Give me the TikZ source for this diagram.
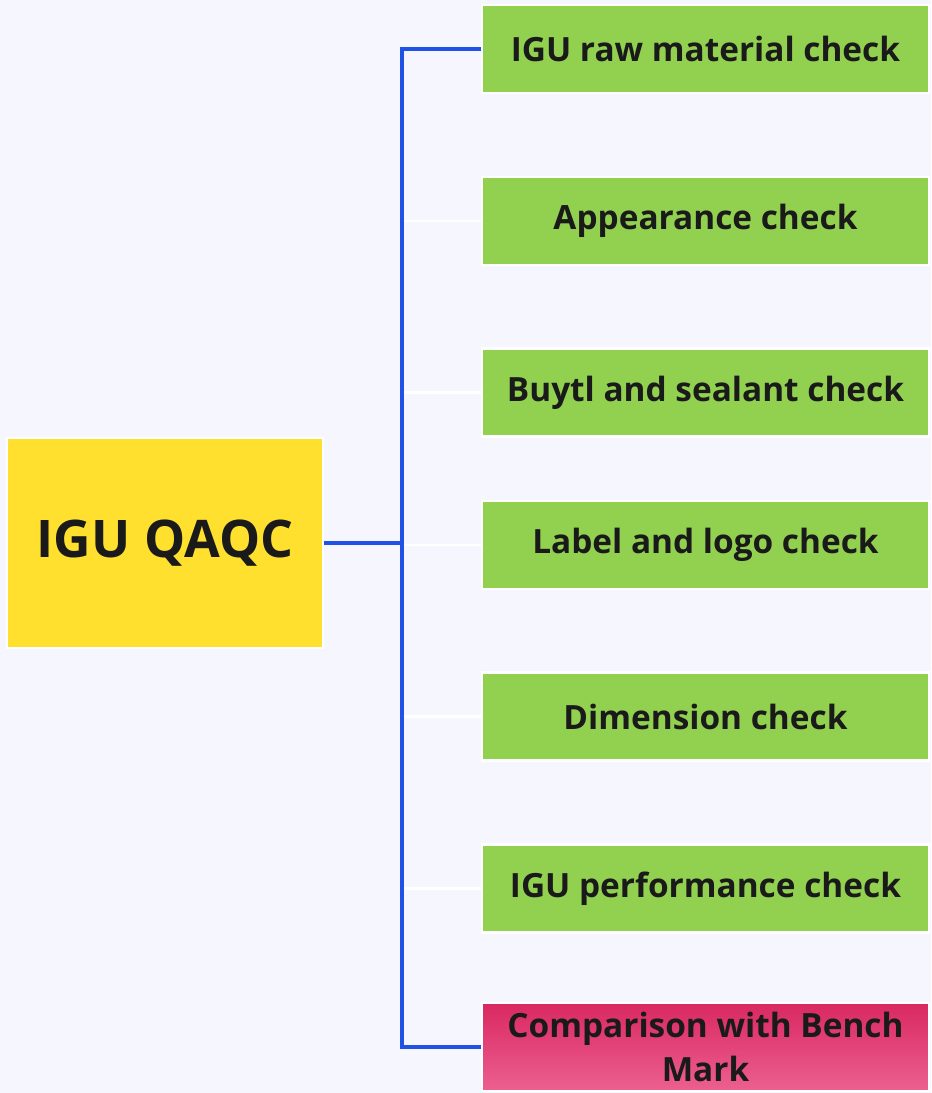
\documentclass[tikz,border=0pt]{standalone}
\usepackage{fontspec}
\setmainfont{Open Sans}
\definecolor{bg}{HTML}{F5F6FE}
\definecolor{rootfill}{HTML}{FFE02E}
\definecolor{checkfill}{HTML}{92D050}
\definecolor{linkblue}{HTML}{2152E6}
\definecolor{marktop}{HTML}{D92862}
\definecolor{markbot}{HTML}{EC6090}
\definecolor{txt}{HTML}{1A1A1A}
\tikzset{
  rootbox/.style={draw=white, line width=1.5pt, fill=rootfill, minimum width=6.32cm, minimum height=4.2cm, font=\bfseries\fontsize{29.5}{34}\selectfont, text=txt},
  checkbox/.style={draw=white, line width=1.5pt, fill=checkfill, minimum width=8.94cm, minimum height=1.76cm, font=\bfseries\fontsize{19}{22}\selectfont, text=txt, align=center},
  link/.style={draw=linkblue, line width=1.8pt},
  faint/.style={draw=white, line width=1.2pt}
}
\begin{document}
\begin{tikzpicture}[x=0.02cm, y=0.02cm]
\fill[bg] (0,0) rectangle (931,1093);
\useasboundingbox (0,0) rectangle (931,1093);
\node[rootbox] (root) at (165,550) {IGU QAQC};
\node[checkbox] (c1) at (705.5,1044) {IGU raw material check};
\node[checkbox] (c2) at (705.5,872) {Appearance check};
\node[checkbox] (c3) at (705.5,700.5) {Buytl and sealant check};
\node[checkbox] (c4) at (705.5,548) {Label and logo check};
\node[checkbox] (c5) at (705.5,376.5) {Dimension check};
\node[checkbox] (c6) at (705.5,204.5) {IGU performance check};
\node[checkbox, fill=none, top color=marktop, bottom color=markbot] (c7) at (705.5,46) {Comparison with Bench\\[2.5pt]Mark};
\coordinate (hub) at (402,550);
% faint branches to the middle boxes
\draw[faint] (hub |- c2) -- (c2.west);
\draw[faint] (hub |- c3) -- (c3.west);
\draw[faint] (hub |- c4) -- (c4.west);
\draw[faint] (hub |- c5) -- (c5.west);
\draw[faint] (hub |- c6) -- (c6.west);
% main connectors
\draw[link] (root.east) -- (hub);
\draw[link] (c1.west) -- (hub |- c1) -- (hub |- c7) -- (c7.west);
\end{tikzpicture}
\end{document}
